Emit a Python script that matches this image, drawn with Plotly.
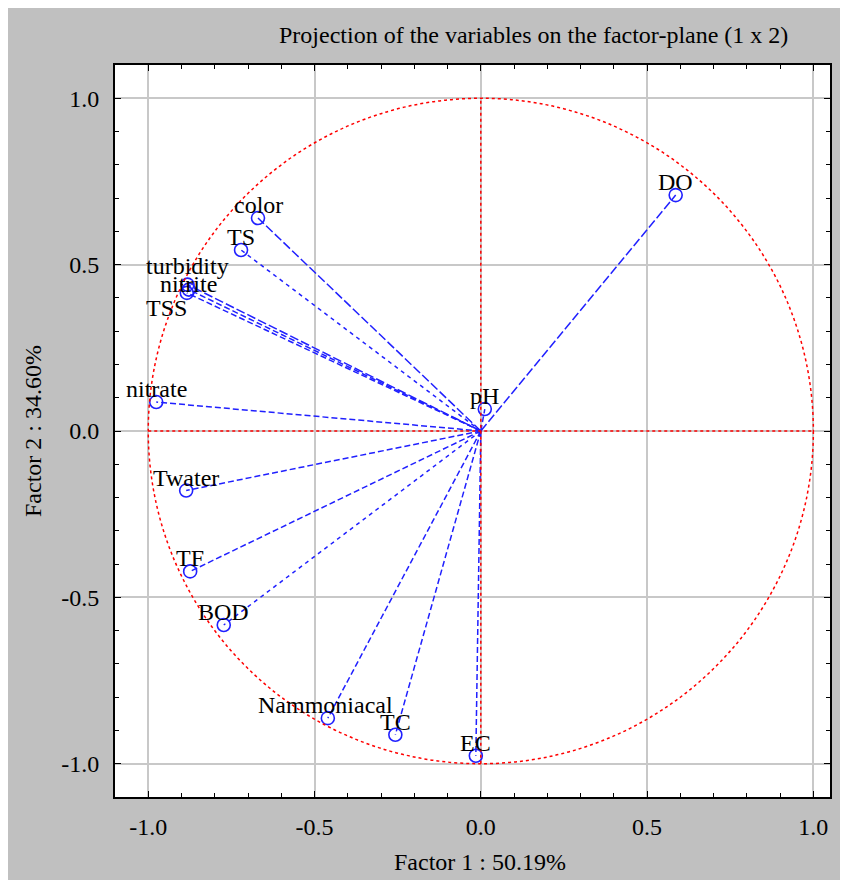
import plotly.graph_objects as go

# Data: factor loadings
variables = ["DO", "pH", "color", "TS", "turbidity", "nitrite", "TSS", "nitrate",
             "Twater", "TF", "BOD", "Nammoniacal", "TC", "EC"]
factor1 = [0.586, 0.012, -0.670, -0.721, -0.882, -0.878, -0.884, -0.976,
           -0.886, -0.874, -0.773, -0.460, -0.257, -0.015]
factor2 = [0.709, 0.066, 0.640, 0.544, 0.440, 0.425, 0.415, 0.087,
           -0.179, -0.422, -0.583, -0.863, -0.913, -0.976]

tick_vals = [-1.0, -0.5, 0.0, 0.5, 1.0]
tick_text = ["-1.0", "-0.5", "0.0", "0.5", "1.0"]

# styling (not data)
dash_style = {"DO": "9px,3px", "color": "9px,3px", "turbidity": "9px,3px",
              "TS": "4px,4px", "BOD": "4px,4px"}
label_shift = {"turbidity": (0, 19), "nitrite": (0, 6), "TSS": (-20, -15),
               "Nammoniacal": (-2, 13)}

FONT = "Liberation Serif"
FS = 24
BLUE = "#2020ff"

fig = go.Figure()

for name, x, y in zip(variables, factor1, factor2):
    fig.add_trace(go.Scatter(
        x=[0, x], y=[0, y], mode="lines",
        line=dict(color=BLUE, width=1.5, dash=dash_style.get(name, "6px,3px")),
        hoverinfo="skip", showlegend=False))

fig.add_trace(go.Scatter(
    x=factor1, y=factor2, mode="markers",
    marker=dict(symbol="circle-open", size=13, color=BLUE, line=dict(width=1.6)),
    text=variables, showlegend=False))

for name, x, y in zip(variables, factor1, factor2):
    dx, dy = label_shift.get(name, (0, 13))
    fig.add_annotation(x=x, y=y, text=name, showarrow=False,
                       xshift=dx, yshift=dy, xanchor="center", yanchor="middle",
                       font=dict(family=FONT, size=FS, color="black"))

# unit circle and axes cross
fig.add_shape(type="circle", x0=-1, y0=-1, x1=1, y1=1,
              line=dict(color="red", width=1.5, dash="dot"), layer="above")
fig.add_shape(type="line", x0=0, y0=-1, x1=0, y1=1,
              line=dict(color="red", width=1.5, dash="dot"), layer="above")
fig.add_shape(type="line", x0=-1, y0=0, x1=1, y1=0,
              line=dict(color="red", width=1.5, dash="dot"), layer="above")

fig.add_annotation(xref="paper", yref="paper", x=0.585, y=1.041,
                   xanchor="center", yanchor="middle",
                   text="Projection of the variables on the factor-plane (1 x 2)",
                   showarrow=False, font=dict(family=FONT, size=FS, color="black"))
fig.add_annotation(xref="paper", yref="paper", x=0.5105, y=-0.0888,
                   xanchor="center", yanchor="middle",
                   text="Factor 1 : 50.19%", showarrow=False,
                   font=dict(family=FONT, size=FS, color="black"))
fig.add_annotation(xref="paper", yref="paper", x=-0.1147, y=0.5, textangle=-90,
                   xanchor="center", yanchor="middle",
                   text="Factor 2 : 34.60%", showarrow=False,
                   font=dict(family=FONT, size=FS, color="black"))

axis_common = dict(
    tickvals=tick_vals, ticktext=tick_text,
    showgrid=True, gridcolor="#c8c8c8", gridwidth=2,
    zeroline=False, showline=True, linecolor="black",
    mirror="ticks", ticks="inside", ticklen=6, tickcolor="black",
    minor=dict(dtick=0.1, ticks="inside", ticklen=4, tickcolor="black", showgrid=False),
    tickfont=dict(family=FONT, size=FS, color="black"),
    fixedrange=True,
)

fig.update_xaxes(range=[-1.1, 1.05], ticklabelstandoff=7, linewidth=1.5, **axis_common)
fig.update_yaxes(range=[-1.1, 1.1], ticklabelstandoff=9, linewidth=2, **axis_common)

fig.update_layout(
    width=840, height=872,
    margin=dict(l=107, r=18, t=57, b=83),
    paper_bgcolor="#c0c0c0", plot_bgcolor="white",
    showlegend=False,
)

fig.write_html("out.html")
